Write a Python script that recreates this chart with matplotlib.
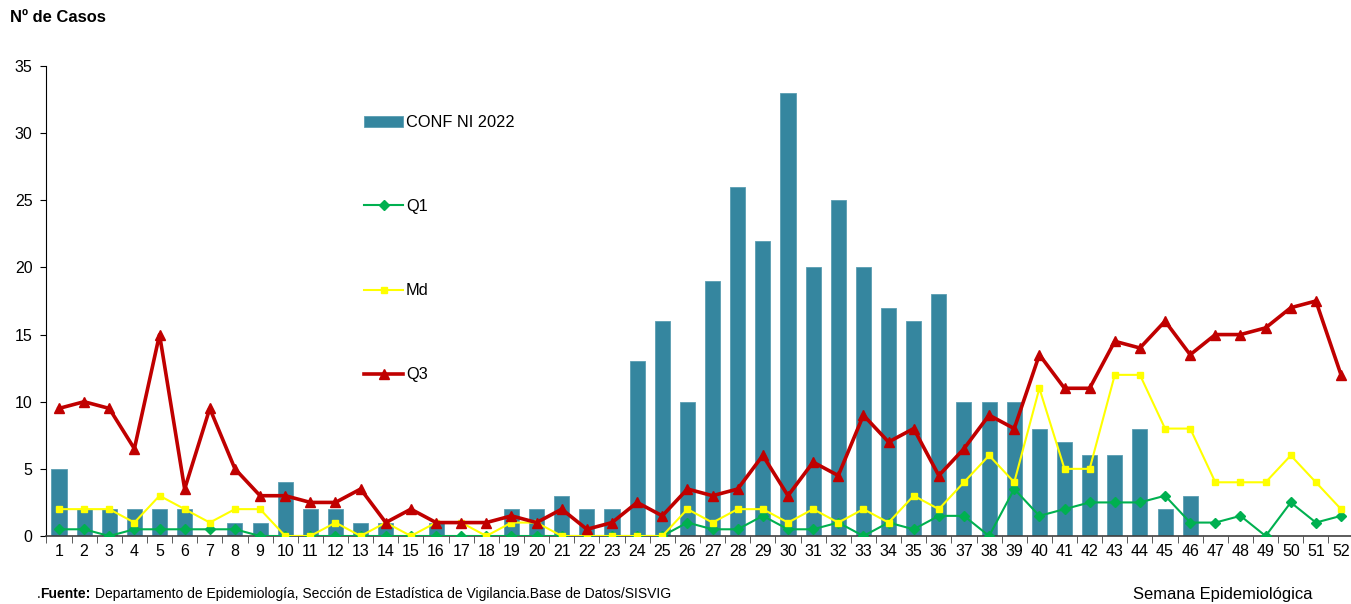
import matplotlib
matplotlib.use("Agg")
import matplotlib.pyplot as plt
import numpy as np

plt.rcParams['font.family'] = ['Liberation Sans', 'DejaVu Sans']

########## DATOS ##########
semanas = list(range(1, 53))
conf_2022 = [5, 2, 2, 2, 2, 2, 0, 1, 1, 4, 2, 2, 1, 1, 0, 1, 0, 0, 2, 2,
             3, 2, 2, 13, 16, 10, 19, 26, 22, 33, 20, 25, 20, 17, 16, 18, 10, 10, 10, 8,
             7, 6, 6, 8, 2, 3, 0, 0, 0, 0, 0, 0]
q1 = [0.5, 0.5, 0, 0.5, 0.5, 0.5, 0.5, 0.5, 0, 0, 0, 0, 0, 0, 0, 0, 0, 0, 0, 0,
      0, 0, 0, 0, 0, 1, 0.5, 0.5, 1.5, 0.5, 0.5, 1, 0, 1, 0.5, 1.5, 1.5, 0, 3.5, 1.5,
      2, 2.5, 2.5, 2.5, 3, 1, 1, 1.5, 0, 2.5, 1, 1.5]
md = [2, 2, 2, 1, 3, 2, 1, 2, 2, 0, 0, 1, 0, 1, 0, 1, 1, 0, 1, 1,
      0, 0, 0, 0, 0, 2, 1, 2, 2, 1, 2, 1, 2, 1, 3, 2, 4, 6, 4, 11,
      5, 5, 12, 12, 8, 8, 4, 4, 4, 6, 4, 2]
q3 = [9.5, 10, 9.5, 6.5, 15, 3.5, 9.5, 5, 3, 3, 2.5, 2.5, 3.5, 1, 2, 1, 1, 1, 1.5, 1,
      2, 0.5, 1, 2.5, 1.5, 3.5, 3, 3.5, 6, 3, 5.5, 4.5, 9, 7, 8, 4.5, 6.5, 9, 8, 13.5,
      11, 11, 14.5, 14, 16, 13.5, 15, 15, 15.5, 17, 17.5, 12]

W, H = 1351, 604
fig = plt.figure(figsize=(W / 100, H / 100), dpi=100)
ax = fig.add_axes([46.4 / W, 68 / H, 1307.2 / W, 470 / H])

########## GRAFICA ##########
barras = ax.bar(semanas, conf_2022, width=0.6, color='#35869f', edgecolor='#5a9db2',
                linewidth=0.6, label='CONF NI 2022', zorder=2)
l1, = ax.plot(semanas, q1, color='#00b050', lw=1.5, marker='D', ms=5.5, label='Q1', zorder=3)
l2, = ax.plot(semanas, md, color='#ffff00', lw=1.5, marker='s', ms=4, label='Md', zorder=4)
l3, = ax.plot(semanas, q3, color='#c00000', lw=2.6, marker='^', ms=7, label='Q3', zorder=5)

ax.set_xlim(0.5, 52.5)
ax.set_ylim(0, 35)
ax.set_yticks(np.arange(0, 36, 5))
ax.set_xticks(semanas)
ax.set_xticks(np.arange(0.5, 53, 1), minor=True)
ax.tick_params(axis='x', which='major', length=0, labelsize=11.5, pad=6)
ax.tick_params(axis='x', which='minor', length=5, direction='out', color='#404040')
ax.tick_params(axis='y', length=4, direction='out', labelsize=11.5, pad=6)
ax.spines['top'].set_visible(False)
ax.spines['right'].set_visible(False)
ax.spines['left'].set_color('black')
ax.spines['bottom'].set_color('#404040')
ax.spines['bottom'].set_linewidth(1.2)

leg = ax.legend([barras, l1, l2, l3], ['CONF NI 2022', 'Q1', 'Md', 'Q3'],
                loc='upper left', bbox_to_anchor=(364 / W, 1 - 115 / H),
                bbox_transform=fig.transFigure, frameon=False, fontsize=11.8,
                labelspacing=4.22, handlelength=2.4, handletextpad=0.15,
                borderpad=0, borderaxespad=0)

########## TEXTOS ##########
fig.text(10 / W, 1 - 18 / H, 'Nº de Casos', fontsize=11.9, fontweight='bold',
         va='center', ha='left')
fig.text(1133 / W, 1 - 595 / H, 'Semana Epidemiológica', fontsize=11.9,
         va='center', ha='left')
fig.text(37 / W, 1 - 594 / H, '.', fontsize=10, va='center', ha='left')
fig.text(40 / W, 1 - 594 / H, 'Fuente:', fontsize=10, fontweight='bold',
         va='center', ha='left')
fig.text(95 / W, 1 - 594 / H,
         'Departamento de Epidemiología, Sección de Estadística de Vigilancia.Base de Datos/SISVIG',
         fontsize=10, va='center', ha='left')

fig.savefig('out.png', dpi=100)
